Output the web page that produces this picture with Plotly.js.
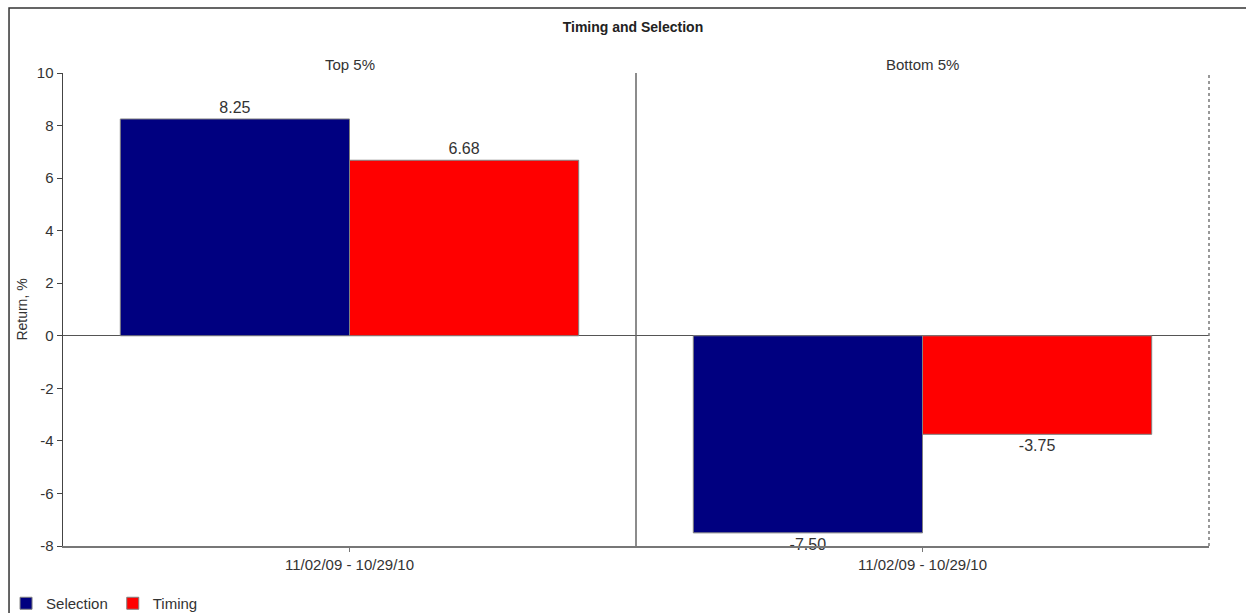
<!DOCTYPE html>
<html>
<head>
<meta charset="utf-8">
<script src="https://cdn.plot.ly/plotly-3.0.1.min.js"></script>
<style>
html,body{margin:0;padding:0;background:#fff;}
#chart{width:1246px;height:613px;}
</style>
</head>
<body>
<div id="chart"></div>
<script>
const groups = ['Top 5%', 'Bottom 5%'];
const periods = ['11/02/09 - 10/29/10', '11/02/09 - 10/29/10'];
const seriesNames = ['Selection', 'Timing'];
const seriesColors = ['#000080', '#ff0000'];
const selectionValues = [8.25, -7.50];
const timingValues = [6.68, -3.75];
const seriesValues = [selectionValues, timingValues];
const yTicks = [-8, -6, -4, -2, 0, 2, 4, 6, 8, 10];

const FONT = 'Liberation Sans, Arial, sans-serif';
const traces = [];
groups.forEach((g, gi) => {
  seriesNames.forEach((s, si) => {
    traces.push({
      type: 'bar',
      name: s,
      legendgroup: s,
      showlegend: gi === 0,
      x: [periods[gi]],
      y: [seriesValues[si][gi]],
      xaxis: gi === 0 ? 'x' : 'x2',
      yaxis: 'y',
      marker: {color: seriesColors[si], line: {color: '#808080', width: 1}},
      texttemplate: '%{y:.2f}',
      textposition: 'outside',
      textfont: {family: FONT, size: 16, color: '#333'},
      cliponaxis: false,
      constraintext: 'none',
      hoverinfo: 'skip'
    });
  });
});

const xCommon = {
  type: 'category',
  showline: true, linecolor: '#777', linewidth: 1.5,
  ticks: 'outside', ticklen: 4, tickcolor: '#777',
  tickfont: {family: FONT, size: 15, color: '#333'},
  showgrid: false, zeroline: false, anchor: 'y', fixedrange: true
};

const layout = {
  width: 1246, height: 613,
  margin: {l: 63, r: 37, t: 73, b: 67, autoexpand: false},
  paper_bgcolor: '#fff', plot_bgcolor: '#fff',
  font: {family: FONT, color: '#333'},
  barmode: 'group', bargap: 0.2, bargroupgap: 0,
  title: {text: '<b>Timing and Selection</b>', font: {family: FONT, size: 14, color: '#222'},
          x: 0.508, xanchor: 'center', y: 1 - 27/613, yanchor: 'middle', yref: 'container'},
  xaxis: Object.assign({}, xCommon, {domain: [0, 0.5]}),
  xaxis2: Object.assign({}, xCommon, {domain: [0.5, 1]}),
  yaxis: {
    range: [-8, 10], tickvals: yTicks, ticktext: yTicks.map(String),
    showline: true, linecolor: '#444', linewidth: 1.5,
    ticks: 'outside', ticklen: 5, tickcolor: '#444',
    tickfont: {family: FONT, size: 15, color: '#333'},
    showgrid: false, zeroline: true, zerolinecolor: '#555', zerolinewidth: 1,
    title: {text: 'Return, %', font: {family: FONT, size: 14, color: '#333'}, standoff: 6},
    fixedrange: true
  },
  showlegend: true,
  legend: {orientation: 'h', x: -0.0497, xanchor: 'left', y: -0.0867, yanchor: 'top',
           bgcolor: 'rgba(0,0,0,0)',
           font: {family: FONT, size: 15, color: '#333'}, itemwidth: 30, traceorder: 'normal'},
  annotations: groups.map((g, gi) => ({
    text: g, xref: 'paper', yref: 'paper', x: gi === 0 ? 0.25 : 0.75, y: 1.019,
    xanchor: 'center', yanchor: 'middle', showarrow: false,
    font: {family: FONT, size: 15, color: '#333'}
  })),
  shapes: [
    {type: 'line', xref: 'paper', yref: 'paper', x0: 0.5, x1: 0.5, y0: 0, y1: 1,
     line: {color: '#666', width: 1.5}},
    {type: 'line', xref: 'paper', yref: 'paper', x0: 1, x1: 1, y0: 0, y1: 1,
     line: {color: '#777', width: 1.5, dash: 'dot'}},
    {type: 'rect', xref: 'paper', yref: 'paper', x0: -0.0471, x1: 1.04, y0: -0.2, y1: 1.1374,
     line: {color: '#333', width: 1.5}, fillcolor: 'rgba(0,0,0,0)', layer: 'below'}
  ]
};

Plotly.newPlot('chart', traces, layout, {displayModeBar: false, staticPlot: true});
</script>
</body>
</html>
